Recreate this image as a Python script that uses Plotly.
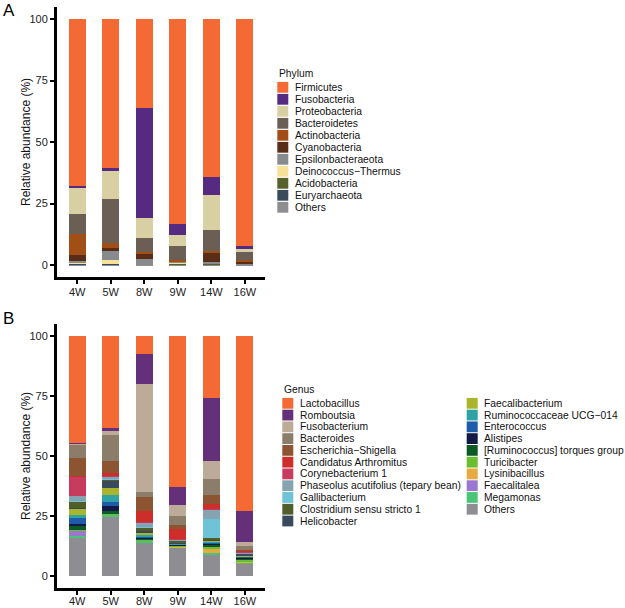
import plotly.graph_objects as go

# ---------------- data ----------------
weeks = ["4W", "5W", "8W", "9W", "14W", "16W"]

# Panel A: phylum relative abundance (%), legend order (top of stack first)
phylum_names = ["Firmicutes", "Fusobacteria", "Proteobacteria", "Bacteroidetes",
                "Actinobacteria", "Cyanobacteria", "Epsilonbacteraeota",
                "Deinococcus\u2212Thermus", "Acidobacteria", "Euryarchaeota", "Others"]
phylum_colors = ["#F46A35", "#572A82", "#D8CFA3", "#6B5E55", "#A24F17", "#5A2D18",
                 "#878B8E", "#F7E198", "#56612B", "#394A5B", "#8E8E92"]
firmicutes = [67.9, 60.4, 36.0, 83.3, 64.1, 92.1]
fusobacteria = [0.5, 1.4, 44.6, 4.2, 7.4, 1.4]
proteobacteria = [10.9, 11.1, 8.1, 4.6, 14.3, 1.1]
bacteroidetes = [7.8, 17.9, 5.9, 5.6, 8.5, 3.4]
actinobacteria = [8.8, 2.2, 0.7, 0.7, 0.7, 0.4]
cyanobacteria = [2.5, 1.3, 2.0, 0.2, 3.6, 0.9]
epsilonbacteraeota = [0.5, 3.4, 2.4, 0.2, 0.6, 0.3]
deinococcus = [0.4, 1.6, 0.0, 0.4, 0.1, 0.0]
acidobacteria = [0.1, 0.0, 0.1, 0.3, 0.2, 0.1]
euryarchaeota = [0.1, 0.5, 0.0, 0.1, 0.1, 0.0]
phylum_others = [0.5, 0.2, 0.2, 0.4, 0.4, 0.3]
phylum_values = [firmicutes, fusobacteria, proteobacteria, bacteroidetes, actinobacteria,
                 cyanobacteria, epsilonbacteraeota, deinococcus, acidobacteria,
                 euryarchaeota, phylum_others]

# Panel B: genus relative abundance (%), legend order (top of stack first)
genus_names = ["Lactobacillus", "Romboutsia", "Fusobacterium", "Bacteroides",
               "Escherichia\u2212Shigella", "Candidatus Arthromitus", "Corynebacterium 1",
               "Phaseolus acutifolius (tepary bean)", "Gallibacterium",
               "Clostridium sensu stricto 1", "Helicobacter", "Faecalibacterium",
               "Ruminococcaceae UCG\u2212014", "Enterococcus", "Alistipes",
               "[Ruminococcus] torques group", "Turicibacter", "Lysinibacillus",
               "Faecalitalea", "Megamonas", "Others"]
genus_colors = ["#F46A35", "#64307A", "#BCAB99", "#8B7D6A", "#8D5431", "#CE2E2A",
                "#C63B5E", "#86A3B1", "#6EC3D7", "#505E2B", "#3A4A5D", "#A9B52C",
                "#2FA3A4", "#1E5BA8", "#121A45", "#0D5A27", "#6BBE2F", "#E6AA43",
                "#9B77CF", "#4CC477", "#8E8E92"]
lactobacillus = [44.4, 38.4, 7.6, 63.0, 25.6, 72.7]
romboutsia = [0.4, 1.3, 12.4, 7.2, 26.6, 13.2]
fusobacterium = [0.3, 1.4, 45.0, 4.6, 7.2, 1.6]
bacteroides = [5.6, 11.0, 2.0, 3.7, 6.7, 1.7]
escherichia = [7.6, 5.0, 5.7, 1.8, 4.0, 0.1]
candidatus = [0.3, 0.8, 4.9, 4.2, 1.9, 0.6]
corynebacterium = [7.9, 0.9, 0.2, 0.1, 0.2, 0.1]
phaseolus = [2.2, 0.6, 1.7, 0.5, 3.9, 0.4]
gallibacterium = [0.1, 0.2, 0.3, 0.1, 7.8, 0.0]
clostridium = [2.8, 0.5, 1.2, 0.7, 0.7, 0.3]
helicobacter = [0.4, 3.2, 1.2, 0.3, 0.5, 0.5]
faecalibacterium = [2.4, 3.0, 0.6, 0.3, 0.5, 0.4]
ruminococcaceae = [1.4, 2.8, 0.5, 0.2, 0.3, 0.4]
enterococcus = [2.3, 1.8, 0.6, 0.2, 0.6, 0.3]
alistipes = [1.1, 2.0, 0.4, 0.2, 0.5, 0.4]
torques_group = [1.4, 1.2, 0.5, 0.3, 0.5, 0.4]
turicibacter = [0.2, 0.2, 0.2, 0.3, 1.0, 0.8]
lysinibacillus = [0.0, 0.0, 0.0, 0.2, 1.8, 0.5]
faecalitalea = [2.3, 0.0, 0.0, 0.0, 0.0, 0.0]
megamonas = [0.6, 0.9, 0.8, 0.3, 0.7, 0.2]
genus_others = [16.3, 24.8, 14.2, 11.8, 9.0, 5.4]
genus_values = [lactobacillus, romboutsia, fusobacterium, bacteroides, escherichia,
                candidatus, corynebacterium, phaseolus, gallibacterium, clostridium,
                helicobacter, faecalibacterium, ruminococcaceae, enterococcus, alistipes,
                torques_group, turicibacter, lysinibacillus, faecalitalea, megamonas,
                genus_others]

y_ticks = [0, 25, 50, 75, 100]

# ---------------- figure ----------------
W, H = 625, 608
L = 57
FONT = "Liberation Sans, Arial, sans-serif"


def px(x):
    return (x - L) / (W - L)


def py(y):
    return 1 - y / H


fig = go.Figure()

for name, vals, col in reversed(list(zip(phylum_names, phylum_values, phylum_colors))):
    fig.add_trace(go.Bar(x=weeks, y=vals, name=name, width=0.5,
                         marker=dict(color=col, line=dict(width=0)),
                         xaxis="x", yaxis="y", showlegend=False))

for name, vals, col in reversed(list(zip(genus_names, genus_values, genus_colors))):
    fig.add_trace(go.Bar(x=weeks, y=vals, name=name, width=0.5,
                         marker=dict(color=col, line=dict(width=0)),
                         xaxis="x2", yaxis="y2", showlegend=False))

axis_common = dict(showline=True, linecolor="black", linewidth=3,
                   ticks="outside", ticklen=4, tickwidth=1.5, tickcolor="black",
                   showgrid=False, zeroline=False,
                   tickfont=dict(family=FONT, size=11, color="#222222"))

xdom = [0, px(265)]
fig.update_layout(
    xaxis=dict(domain=xdom, anchor="y", type="category", range=[-0.6, 5.6],
               categoryorder="array", categoryarray=weeks, ticklabelstandoff=-2,
               **axis_common),
    yaxis=dict(domain=[py(277.3), py(6.7)], anchor="x", range=[-5, 105],
               tickvals=y_ticks, ticktext=[str(v) for v in y_ticks], **axis_common),
    xaxis2=dict(domain=xdom, anchor="y2", type="category", range=[-0.6, 5.6],
                categoryorder="array", categoryarray=weeks, ticklabelstandoff=-3,
                **axis_common),
    yaxis2=dict(domain=[py(588.2), py(324.0)], anchor="x2", range=[-5, 105],
                tickvals=y_ticks, ticktext=[str(v) for v in y_ticks], **axis_common),
    barmode="stack",
    bargap=0,
    width=W, height=H,
    margin=dict(l=L, r=0, t=0, b=0, autoexpand=False),
    paper_bgcolor="white", plot_bgcolor="white",
    font=dict(family=FONT, size=11, color="#111111"),
    showlegend=False,
)

shapes = []
annotations = []

# panel letters
for letter, yc in (("A", 10.5), ("B", 318.5)):
    annotations.append(dict(text=letter, x=px(1), y=py(yc), xref="paper", yref="paper",
                            xanchor="left", yanchor="middle", showarrow=False,
                            font=dict(family=FONT, size=17, color="black")))

# y-axis titles
for yc in (142, 456):
    annotations.append(dict(text="Relative abundance (%)", x=px(26), y=py(yc),
                            xref="paper", yref="paper", xanchor="center", yanchor="middle",
                            textangle=-90, showarrow=False,
                            font=dict(family=FONT, size=12, color="#111111")))

LEG_FONT = dict(family=FONT, size=10.3, color="#111111")


def legend_block(names, colors, sw_x, txt_x, y0, step):
    for i, (n, c) in enumerate(zip(names, colors)):
        yc = y0 + step * i
        shapes.append(dict(type="rect", xref="paper", yref="paper",
                           x0=px(sw_x), x1=px(sw_x + 11), y0=py(yc + 5.4), y1=py(yc - 5.4),
                           fillcolor=c, line=dict(width=0)))
        annotations.append(dict(text=n, x=px(txt_x), y=py(yc), xref="paper", yref="paper",
                                xanchor="left", yanchor="middle", showarrow=False,
                                font=LEG_FONT))


# Phylum legend
annotations.append(dict(text="Phylum", x=px(277), y=py(73.5), xref="paper", yref="paper",
                        xanchor="left", yanchor="middle", showarrow=False, font=LEG_FONT))
legend_block(phylum_names, phylum_colors, 277.3, 293, 87.3, 12.0)

# Genus legend (two columns)
annotations.append(dict(text="Genus", x=px(282), y=py(389.5), xref="paper", yref="paper",
                        xanchor="left", yanchor="middle", showarrow=False, font=LEG_FONT))
legend_block(genus_names[:11], genus_colors[:11], 282.3, 298, 403.3, 11.77)
legend_block(genus_names[11:], genus_colors[11:], 466.7, 482, 403.3, 11.77)

fig.update_layout(shapes=shapes, annotations=annotations)

fig.write_html("out.html", config=dict(displayModeBar=False),
               post_script="document.body.style.margin='0px'; document.body.style.overflow='hidden';")
